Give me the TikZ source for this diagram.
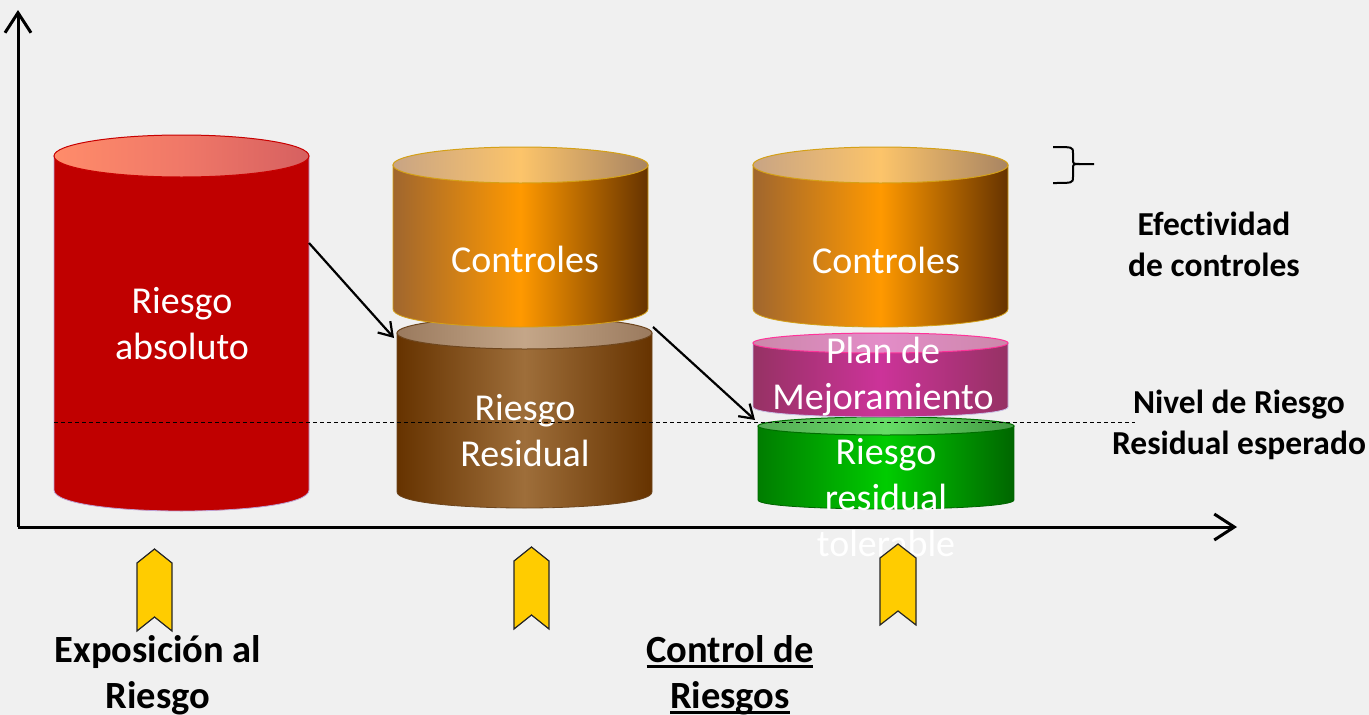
\documentclass[tikz,border=0pt]{standalone}
\usepackage{fontspec}
\setmainfont[Ligatures=NoCommon]{Carlito}
\usetikzlibrary{arrows.meta}
\definecolor{bg}{HTML}{F0F0F0}
\definecolor{chev}{HTML}{FFCC00}
\newcommand\myul[1]{\setbox0\hbox{#1}\rlap{\rule[-6pt]{\wd0}{2.8pt}}\box0}
\newcommand\cyl[7]{%
  \pgfmathsetmacro\cylcx{(#1+#2)/2}%
  \pgfmathsetmacro\cylrx{(#2-#1)/2}%
  \pgfmathsetmacro\cylcb{#4+4/3*#5}%
  \path[#6] (#1,#3) -- (#1,#4) .. controls (#1,\cylcb) and (#2,\cylcb) .. (#2,#4) -- (#2,#3) -- cycle;
  \path[#7] (\cylcx,#3) ellipse [x radius=\cylrx, y radius=#5];
}
\tikzset{
  redbody/.style={fill={rgb,255:red,192;green,0;blue,0}, draw={rgb,255:red,190;green,160;blue,210}, line width=0.8pt},
  redtop/.style={left color={rgb,255:red,255;green,140;blue,106}, right color={rgb,255:red,214;green,96;blue,96}, middle color={rgb,255:red,240;green,120;blue,104}, draw={rgb,255:red,200;green,0;blue,0}, line width=1pt},
  ctlbody/.style={left color={rgb,255:red,160;green,102;blue,46}, right color={rgb,255:red,102;green,51;blue,0}, middle color={rgb,255:red,255;green,153;blue,0}, draw={rgb,255:red,212;green,160;blue,23}, line width=0.8pt},
  ctltop/.style={left color={rgb,255:red,200;green,164;blue,132}, right color={rgb,255:red,168;green,132;blue,98}, middle color={rgb,255:red,252;green,196;blue,106}, draw={rgb,255:red,212;green,160;blue,23}, line width=1pt},
  brnbody/.style={left color={rgb,255:red,102;green,51;blue,0}, right color={rgb,255:red,102;green,51;blue,0}, middle color={rgb,255:red,158;green,110;blue,58}, draw={rgb,255:red,110;green,70;blue,30}, line width=0.8pt},
  brntop/.style={left color={rgb,255:red,154;green,122;blue,94}, right color={rgb,255:red,154;green,122;blue,94}, middle color={rgb,255:red,196;green,166;blue,136}, draw={rgb,255:red,110;green,70;blue,30}, line width=1pt},
  plnbody/.style={left color={rgb,255:red,150;green,50;blue,100}, right color={rgb,255:red,150;green,50;blue,100}, middle color={rgb,255:red,204;green,51;blue,153}, draw={rgb,255:red,200;green,190;blue,230}, line width=0.8pt},
  plntop/.style={left color={rgb,255:red,204;green,136;blue,170}, right color={rgb,255:red,204;green,136;blue,170}, middle color={rgb,255:red,227;green,140;blue,200}, draw={rgb,255:red,255;green,51;blue,153}, line width=1pt},
  grnbody/.style={left color={rgb,255:red,0;green,125;blue,0}, right color={rgb,255:red,0;green,102;blue,0}, middle color={rgb,255:red,0;green,204;blue,0}, draw={rgb,255:red,0;green,100;blue,0}, line width=0.8pt},
  grntop/.style={left color={rgb,255:red,85;green,170;blue,85}, right color={rgb,255:red,68;green,153;blue,68}, middle color={rgb,255:red,102;green,221;blue,102}, draw={rgb,255:red,0;green,110;blue,0}, line width=1pt},
  whitetxt/.style={text=white, align=center, inner sep=0pt, font=\fontsize{38}{46}\selectfont},
  lblbig/.style={text=black, align=center, inner sep=0pt, font=\fontsize{38.5}{46}\selectfont\bfseries},
  lblsmall/.style={text=black, align=center, inner sep=0pt, font=\fontsize{33.5}{41}\selectfont\bfseries},
  axisline/.style={line width=3pt, -{Straight Barb[length=20pt,width=26pt]}},
  flowarrow/.style={line width=2.2pt, -{Straight Barb[length=13pt,width=17pt]}},
  chevshape/.style={fill=chev, draw=black!85, line width=1.2pt, line join=miter},
  levelline/.style={dashed, dash pattern=on 4pt off 3pt, line width=0.9pt},
  bracketline/.style={line width=2pt}
}
\begin{document}
\begin{tikzpicture}[x=1pt,y=-1pt]
\useasboundingbox[fill=bg] (0,0) rectangle (1369,715);
% cylinders
\cyl{54}{309}{156}{490}{21}{redbody}{redtop}
\cyl{397}{652}{333}{492}{16}{brnbody}{brntop}
\cyl{393}{648}{165}{309}{18}{ctlbody}{ctltop}
\cyl{753}{1008}{165}{309}{18}{ctlbody}{ctltop}
\cyl{758}{1014}{426}{500}{9}{grnbody}{grntop}
\cyl{753}{1008}{343}{407}{10}{plnbody}{plntop}
% texts in cylinders
\node[whitetxt] (abs) at (182,324) {Riesgo\\absoluto};
\node[whitetxt] (ctl1) at (525,259) {Controles};
\node[whitetxt] (ctl2) at (886,260) {Controles};
\node[whitetxt] (res) at (525,431) {Riesgo\\Residual};
\node[whitetxt] (plan) at (883,377) {Plan de\\Mejoramiento};
\node[whitetxt] (tol) at (886,498) {Riesgo\\residual\\tolerable};
% level line
\coordinate (lvlA) at (54,422);
\coordinate (lvlB) at (1135,422);
\draw[levelline] (lvlA) -- (lvlB);
% flow arrows
\coordinate (redR) at (309,243);
\coordinate (brnL) at (394,338);
\coordinate (ctlR) at (653,327);
\coordinate (grnL) at (755,420);
\draw[flowarrow] (redR) -- (brnL);
\draw[flowarrow] (ctlR) -- (grnL);
% axes
\coordinate (orig) at (18,527);
\coordinate (ytip) at (18,10);
\coordinate (xtip) at (1237,527);
\draw[axisline] (orig) -- (ytip);
\draw[axisline] (orig) -- (xtip);
% chevrons
\path[chevshape] (137,563) -- (154.5,549) -- (172,563) -- (172,631) -- (154.5,617) -- (137,631) -- cycle;
\path[chevshape] (514,561) -- (531.5,547) -- (549,561) -- (549,629) -- (531.5,615) -- (514,629) -- cycle;
\path[chevshape] (880,558) -- (898,544) -- (916,558) -- (916,625) -- (898,611) -- (880,625) -- cycle;
% bracket
\path[bracketline,draw] (1053,147) .. controls (1073,147) .. (1073,153) -- (1073,159) .. controls (1073,164) .. (1080,164) -- (1094,164);
\path[bracketline,draw] (1080,164) .. controls (1073,164) .. (1073,169) -- (1073,177) .. controls (1073,183) .. (1053,183);
% labels
\node[lblsmall] (efec) at (1214,244) {Efectividad\\de controles};
\node[lblsmall] (nivel) at (1239,425) {Nivel de Riesgo\\Residual esperado};
\node[lblbig] (expo) at (158,675) {Exposición al\\Riesgo};
\node[lblbig] (ctrl) at (730,675) {\myul{Control de}\\\myul{Riesgos}};
\end{tikzpicture}
\end{document}
